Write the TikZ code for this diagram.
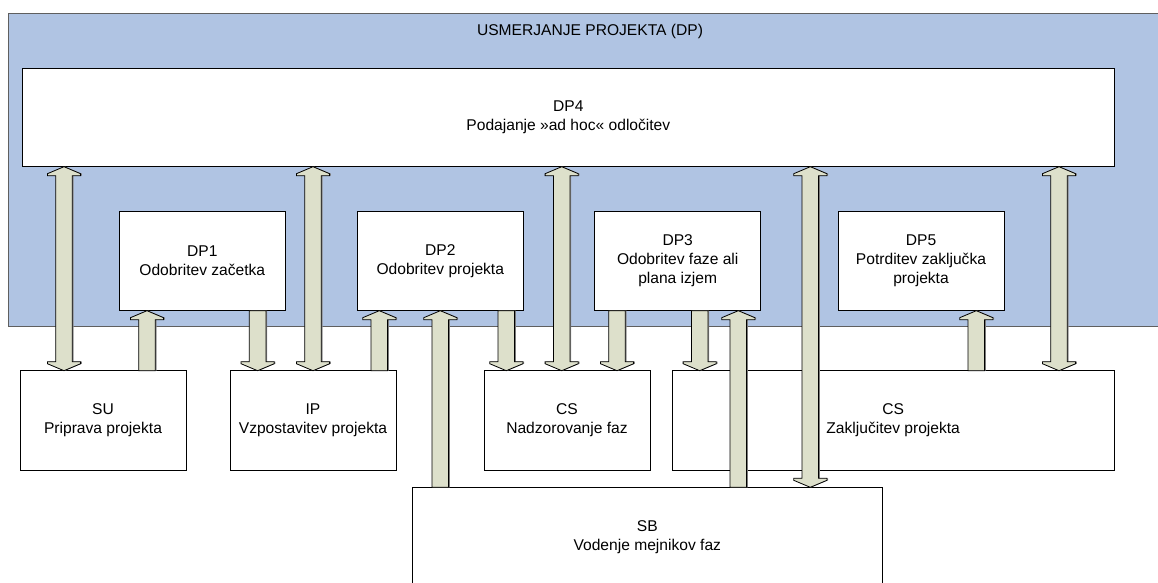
\documentclass[tikz,border=0pt]{standalone}
\usepackage{fontspec}
\setmainfont{Liberation Sans}
\usetikzlibrary{calc}

\definecolor{paneblue}{RGB}{176,196,227}
\definecolor{arrowfill}{RGB}{221,224,203}
\definecolor{frameline}{RGB}{95,95,95}

\tikzset{
  txt/.style={font=\fontsize{15.6}{19}\selectfont, align=center},
  box/.style={txt, draw=black, line width=0.8pt, fill=white, inner sep=0pt,
              outer sep=0pt, anchor=north west},
  smallbox/.style={box, minimum width=166pt, minimum height=99.4pt},
  arrowbody/.style={draw=black, line width=0.8pt, fill=arrowfill, line join=miter,
                    preaction={fill=black!45, transform canvas={xshift=1.2pt}}},
}

% block arrows: #1 = x position, #2 = lower node, #3 = upper node
\newcommand\arrowup[3]{%
  \draw[arrowbody] let \p1=(#3.south), \p2=(#2.north) in
    ({#1pt},\y1) -- ({#1pt+16.6pt},{\y1-7pt}) -- ({#1pt+16.6pt},{\y1-9pt})
    -- ({#1pt+8.3pt},{\y1-9pt}) -- ({#1pt+8.3pt},\y2) -- ({#1pt-8.3pt},\y2)
    -- ({#1pt-8.3pt},{\y1-9pt}) -- ({#1pt-16.6pt},{\y1-9pt})
    -- ({#1pt-16.6pt},{\y1-7pt}) -- cycle;}
\newcommand\arrowdown[3]{%
  \draw[arrowbody] let \p1=(#3.south), \p2=(#2.north) in
    ({#1pt},\y2) -- ({#1pt+16.6pt},{\y2+7pt}) -- ({#1pt+16.6pt},{\y2+9pt})
    -- ({#1pt+8.3pt},{\y2+9pt}) -- ({#1pt+8.3pt},\y1) -- ({#1pt-8.3pt},\y1)
    -- ({#1pt-8.3pt},{\y2+9pt}) -- ({#1pt-16.6pt},{\y2+9pt})
    -- ({#1pt-16.6pt},{\y2+7pt}) -- cycle;}
\newcommand\arrowboth[3]{%
  \draw[arrowbody] let \p1=(#3.south), \p2=(#2.north) in
    ({#1pt},\y1) -- ({#1pt+16.6pt},{\y1-7pt}) -- ({#1pt+16.6pt},{\y1-9pt})
    -- ({#1pt+8.3pt},{\y1-9pt}) -- ({#1pt+8.3pt},{\y2+9pt})
    -- ({#1pt+16.6pt},{\y2+9pt}) -- ({#1pt+16.6pt},{\y2+7pt}) -- ({#1pt},\y2)
    -- ({#1pt-16.6pt},{\y2+7pt}) -- ({#1pt-16.6pt},{\y2+9pt})
    -- ({#1pt-8.3pt},{\y2+9pt}) -- ({#1pt-8.3pt},{\y1-9pt})
    -- ({#1pt-16.6pt},{\y1-9pt}) -- ({#1pt-16.6pt},{\y1-7pt}) -- cycle;}

\begin{document}
\begin{tikzpicture}[x=1pt, y=-1pt]
\useasboundingbox (0,0) rectangle (1158,582);
\clip (0,0) rectangle (1158,582);

% direction pane
\node[draw=frameline, line width=0.8pt, fill=paneblue, inner sep=0pt, outer sep=0pt,
      anchor=north west, minimum width=1180pt, minimum height=313.7pt] (dp) at (8.3,13) {};
\node[txt] (title) at (590,31) {USMERJANJE PROJEKTA (DP)};

% decision points
\node[box, minimum width=1092.7pt, minimum height=98.7pt] (dp4) at (22,68)
  {DP4\\Podajanje »ad hoc« odločitev};
\node[smallbox] (dp1) at (119.3,211.3) {DP1\\Odobritev začetka};
\node[smallbox] (dp2) at (357.3,211.3) {DP2\\Odobritev projekta};
\node[smallbox] (dp3) at (594.7,211.3) {DP3\\Odobritev faze ali\\plana izjem};
\node[smallbox] (dp5) at (838,211.3) {DP5\\Potrditev zaključka\\projekta};

% processes
\node[smallbox, minimum height=99.8pt] (su) at (20,370.7) {SU\\Priprava projekta};
\node[smallbox, minimum height=99.8pt] (ip) at (230,370.7) {IP\\Vzpostavitev projekta};
\node[smallbox, minimum height=99.8pt] (csa) at (484,370.7) {CS\\Nadzorovanje faz};
\node[box, minimum width=442.3pt, minimum height=99.8pt] (csb) at (672,370.7)
  {CS\\Zaključitev projekta};
\node[box, minimum width=470pt, minimum height=99.4pt] (sb) at (412.3,487.3)
  {SB\\Vodenje mejnikov faz};

% flows between processes and decisions
\arrowboth{64}{su}{dp4}
\arrowup{147}{su}{dp1}
\arrowdown{257.6}{ip}{dp1}
\arrowboth{313}{ip}{dp4}
\arrowup{379.3}{ip}{dp2}
\arrowup{440.3}{sb}{dp2}
\arrowdown{506.3}{csa}{dp2}
\arrowboth{561.7}{csa}{dp4}
\arrowdown{617}{csa}{dp3}
\arrowdown{699.7}{csb}{dp3}
\arrowup{738.3}{sb}{dp3}
\arrowboth{810.3}{sb}{dp4}
\arrowup{976.3}{csb}{dp5}
\arrowboth{1059}{csb}{dp4}
\end{tikzpicture}
\end{document}
